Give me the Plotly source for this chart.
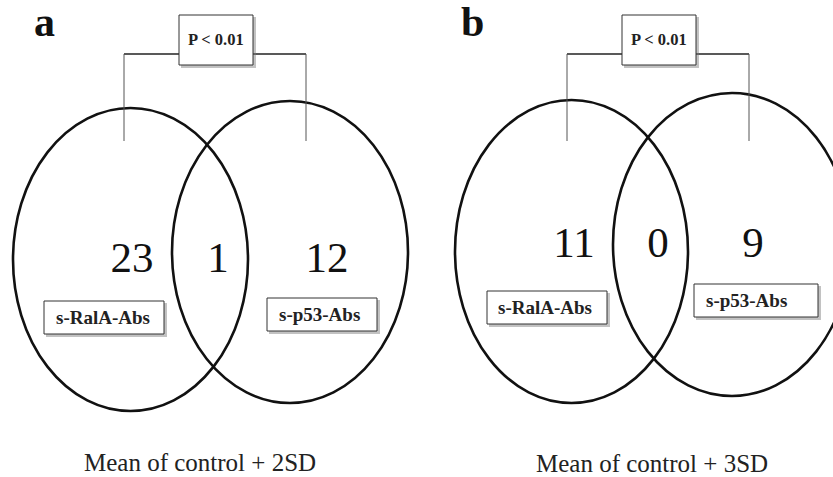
import plotly.graph_objects as go

# ---- data ----
panels = ["a", "b"]
left_only = [23, 11]
overlap = [1, 0]
right_only = [12, 9]
set_labels = ["s-RalA-Abs", "s-p53-Abs"]
p_labels = ["P < 0.01", "P < 0.01"]
captions = ["Mean of control + 2SD", "Mean of control + 3SD"]

W, H = 833, 477
SERIF = "Liberation Serif"

# layout geometry per panel (pixels)
geo = [
    dict(off=0,
         L=(13, 108, 248, 411), R=(172, 101, 408, 403),
         pbox=(179, 15, 253, 65), br=(124, 306), num_y=261,
         num_x=(132, 218, 327),
         lbox=[(44, 301, 164, 334), (267, 298, 377, 331)],
         ltx=[54, 277], letter=(32, 22), cap=(200, 462)),
    dict(off=420,
         L=(455, 100, 688, 403), R=(613, 93, 851, 396),
         pbox=(622, 15, 696, 65), br=(567, 749), num_y=246,
         num_x=(574, 658, 753),
         lbox=[(487, 291, 607, 324), (694, 284, 818, 317)],
         ltx=[496, 704], letter=(459, 22), cap=(652, 463)),
]

fig = go.Figure()
shapes = []
annotations = []

def box(x0, y0, x1, y1):
    # shadow
    shapes.append(dict(type="rect", x0=x0 + 2, y0=y0 + 2, x1=x1 + 3, y1=y1 + 3,
                       line=dict(width=0), fillcolor="rgba(120,120,120,0.45)", layer="above"))
    shapes.append(dict(type="rect", x0=x0, y0=y0, x1=x1, y1=y1,
                       line=dict(color="#333333", width=1), fillcolor="white", layer="above"))

for i, g in enumerate(geo):
    # ellipses
    for e in (g["L"], g["R"]):
        shapes.append(dict(type="circle", x0=e[0], y0=e[1], x1=e[2], y1=e[3],
                           line=dict(color="#111111", width=2.6), layer="below"))
    # bracket
    bl, brr = g["br"]
    px0, py0, px1, py1 = g["pbox"]
    by = 54
    shapes.append(dict(type="line", x0=bl, y0=by, x1=px0, y1=by, line=dict(color="#222", width=1.6)))
    shapes.append(dict(type="line", x0=px1, y0=by, x1=brr, y1=by, line=dict(color="#222", width=1.6)))
    shapes.append(dict(type="line", x0=bl, y0=by, x1=bl, y1=141, line=dict(color="#555", width=1)))
    shapes.append(dict(type="line", x0=brr, y0=by, x1=brr, y1=141, line=dict(color="#555", width=1)))
    box(px0, py0, px1, py1)
    annotations.append(dict(x=(px0 + px1) / 2, y=(py0 + py1) / 2 - 1, text="<b>%s</b>" % p_labels[i],
                            showarrow=False, font=dict(family=SERIF, size=16.5, color="#222")))
    # label boxes
    for j in range(2):
        lb = g["lbox"][j]
        box(*lb)
        annotations.append(dict(x=g["ltx"][j], y=(lb[1] + lb[3]) / 2, text="<b>%s</b>" % set_labels[j],
                                xanchor="left", showarrow=False,
                                font=dict(family=SERIF, size=19, color="#222")))
    # panel letter
    annotations.append(dict(x=g["letter"][0], y=g["letter"][1], text="<b>%s</b>" % panels[i],
                            xanchor="left", showarrow=False,
                            font=dict(family=SERIF, size=42, color="#111")))
    # caption
    annotations.append(dict(x=g["cap"][0], y=g["cap"][1], text=captions[i], showarrow=False,
                            font=dict(family=SERIF, size=25, color="#222")))
    # counts
    vals = [left_only[i], overlap[i], right_only[i]]
    fig.add_trace(go.Scatter(x=list(g["num_x"]), y=[g["num_y"]] * 3, mode="text",
                             text=[str(v) for v in vals], textposition="middle center",
                             textfont=dict(family=SERIF, size=43, color="#111"),
                             hoverinfo="skip", showlegend=False))

fig.update_layout(
    width=W, height=H, margin=dict(l=0, r=0, t=0, b=0),
    paper_bgcolor="white", plot_bgcolor="white",
    xaxis=dict(range=[0, W], visible=False, fixedrange=True),
    yaxis=dict(range=[H, 0], visible=False, fixedrange=True),
    shapes=shapes, annotations=annotations, showlegend=False,
)
fig.write_html("out.html")
